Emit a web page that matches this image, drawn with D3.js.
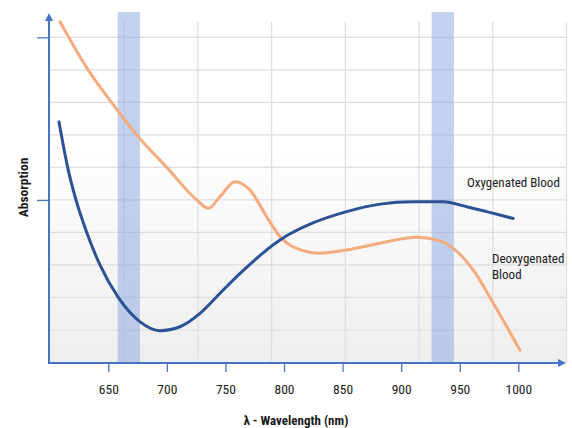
<!DOCTYPE html>
<html>
<head>
<meta charset="utf-8">
<script src="https://cdn.jsdelivr.net/npm/d3@7"></script>
<style>
  html, body { margin: 0; padding: 0; background: #fff; }
  svg { display: block; }
  text { font-family: 'Liberation Sans Narrow', 'Arial Narrow', 'Roboto Condensed', 'Liberation Sans', sans-serif; fill: #1a1a1a; }
</style>
</head>
<body>
<svg id="chart" width="572" height="428"></svg>
<script>
// ---- data ----
const xTicks = [650, 700, 750, 800, 850, 900, 950, 1000];
const yTicks = [5, 10];
const bands = [[658, 677], [926, 945]];

const oxyWl  = [607.9, 615.3, 622.4, 631.6, 642.9, 658.5, 677.1, 694.1, 711.2, 728.3, 745.4, 762.5, 796.6, 824.7, 853.5, 882.1, 910.1, 935.7, 955.9, 973, 995.7];
const oxyVal = [7.40, 6.00, 5.00, 4.00, 3.00, 2.00, 1.25, 0.98, 1.10, 1.51, 2.13, 2.74, 3.77, 4.29, 4.64, 4.87, 4.94, 4.94, 4.79, 4.64, 4.43];

const deoxyWl  = [608.8, 632.9, 652.9, 674.2, 699.9, 725.5, 735.4, 745.4, 758.2, 771, 785.2, 796.6, 810.8, 830.9, 853.5, 882.1, 913.3, 930.3, 944.5, 961.6, 978.7, 1001.4];
const deoxyVal = [10.48, 8.99, 7.99, 7.00, 6.00, 5.00, 4.74, 5.10, 5.56, 5.30, 4.48, 3.87, 3.51, 3.36, 3.46, 3.67, 3.85, 3.77, 3.51, 2.84, 1.82, 0.38];

const seriesLabels = ["Oxygenated Blood", ["Deoxygenated", "Blood"]];
const xTitle = "λ -  Wavelength (nm)";
const yTitle = "Absorption";

// ---- layout ----
const svg = d3.select("#chart");
const x = d3.scaleLinear().domain([650, 1000]).range([108.3, 518.3]);
const y = d3.scaleLinear().domain([0, 10]).range([362.5, 37.3]);
const plotLeft = 50, plotRight = 567, plotTop = 22, plotBottom = 363;
const axisColor = "#4774c6";

const defs = svg.append("defs");
const grad = defs.append("linearGradient").attr("id", "bg").attr("x1", 0).attr("y1", 0).attr("x2", 0).attr("y2", 1);
grad.append("stop").attr("offset", "0%").attr("stop-color", "#ffffff");
grad.append("stop").attr("offset", "35%").attr("stop-color", "#ffffff");
grad.append("stop").attr("offset", "100%").attr("stop-color", "#eeeeee");

svg.append("rect").attr("x", plotLeft).attr("y", plotTop)
  .attr("width", plotRight - plotLeft).attr("height", plotBottom - plotTop)
  .attr("fill", "url(#bg)");

// grid
const gx = d3.scaleLinear().domain([0, 7]).range([50.5, 566.5]);
svg.append("g").selectAll("line").data(d3.range(1, 8)).join("line")
  .attr("x1", d => gx(d)).attr("x2", d => gx(d))
  .attr("y1", plotTop).attr("y2", plotBottom)
  .attr("stroke", "#dedede").attr("stroke-width", 1.2);
svg.append("g").selectAll("line").data(d3.range(1, 11)).join("line")
  .attr("x1", plotLeft).attr("x2", plotRight)
  .attr("y1", d => y(d)).attr("y2", d => y(d))
  .attr("stroke", "#dedede").attr("stroke-width", 1.2);

// bands
svg.append("g").selectAll("rect").data(bands).join("rect")
  .attr("x", d => x(d[0])).attr("width", d => x(d[1]) - x(d[0]))
  .attr("y", 12).attr("height", plotBottom - 12)
  .attr("fill", "#8fabde").attr("opacity", 0.55);

// curves
const line = d3.line().x(d => x(d[0])).y(d => y(d[1])).curve(d3.curveMonotoneX);
const oxy = oxyWl.map((w, i) => [w, oxyVal[i]]);
const deoxy = deoxyWl.map((w, i) => [w, deoxyVal[i]]);
svg.append("path").datum(deoxy).attr("d", line)
  .attr("fill", "none").attr("stroke", "#f4ab7e").attr("stroke-width", 3).attr("stroke-linecap", "round");
svg.append("path").datum(oxy).attr("d", line)
  .attr("fill", "none").attr("stroke", "#2c5295").attr("stroke-width", 3).attr("stroke-linecap", "round");

// axes
const axG = svg.append("g");
axG.append("line").attr("x1", 49).attr("x2", 49).attr("y1", 364).attr("y2", 20)
  .attr("stroke", axisColor).attr("stroke-width", 2);
axG.append("path").attr("d", "M49,13 L45,21 L53,21 Z").attr("fill", axisColor);
axG.append("line").attr("x1", 48).attr("x2", 559).attr("y1", 363).attr("y2", 363)
  .attr("stroke", axisColor).attr("stroke-width", 2);
axG.append("path").attr("d", "M566,363 L558,359 L558,367 Z").attr("fill", axisColor);

const xAxis = d3.axisBottom(x).tickValues(xTicks).tickSize(9).tickPadding(12).tickFormat(d3.format("d"));
const xg = svg.append("g").attr("transform", "translate(0,363)").call(xAxis);
xg.select(".domain").remove();
xg.selectAll(".tick line").attr("stroke", axisColor).attr("stroke-width", 1.3);
xg.selectAll(".tick text").attr("font-size", 13.5).attr("fill", "#1a1a1a")
  .style("font-family", "'Liberation Sans Narrow', 'Arial Narrow', 'Roboto Condensed', 'Liberation Sans', sans-serif");

const yAxis = d3.axisLeft(y).tickValues(yTicks).tickSize(12).tickFormat("");
const yg = svg.append("g").attr("transform", "translate(49,0)").call(yAxis);
yg.select(".domain").remove();
yg.selectAll(".tick line").attr("stroke", axisColor).attr("stroke-width", 1.3);

// titles
svg.append("text").attr("x", 296).attr("y", 425).attr("text-anchor", "middle")
  .attr("font-size", 13).attr("font-weight", "bold").text(xTitle);
svg.append("text").attr("transform", "translate(27.5,187.5) rotate(-90)").attr("text-anchor", "middle")
  .attr("font-size", 13.5).attr("font-weight", "bold").text(yTitle);

// series labels
svg.append("text").attr("x", 467).attr("y", 187).attr("font-size", 13).text(seriesLabels[0]);
const dl = svg.append("text").attr("x", 492).attr("y", 263).attr("font-size", 13);
dl.append("tspan").attr("x", 492).attr("y", 263).text(seriesLabels[1][0]);
dl.append("tspan").attr("x", 492).attr("y", 278.5).text(seriesLabels[1][1]);
</script>
</body>
</html>
